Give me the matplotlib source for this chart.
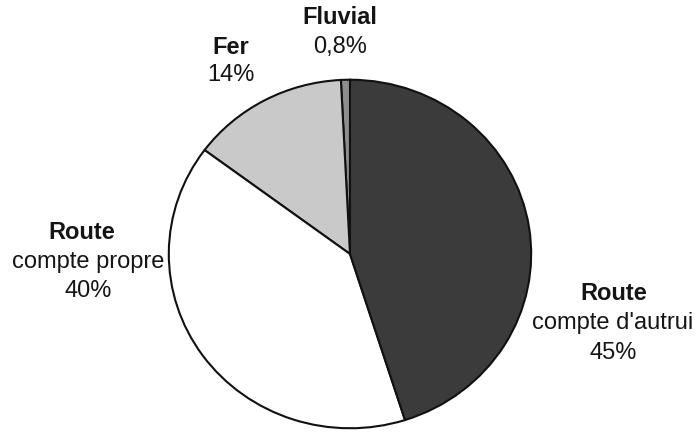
import matplotlib.pyplot as plt

plt.rcParams['font.family'] = ['Liberation Sans', 'DejaVu Sans']

# Répartition modale (%)
names = ['Fluvial', 'Fer', 'Route compte propre', "Route compte d'autrui"]
values = [0.8, 14, 40, 45]
colors = ['#8e8e8e', '#c9c9c9', '#ffffff', '#3b3b3b']

W, H = 699, 432
fig = plt.figure(figsize=(W / 100, H / 100), dpi=100)

# pie box in pixels (slightly wider than tall, as in the scan)
left, top, right, bottom = 167, 78, 533, 430
ax = fig.add_axes([left / W, 1 - bottom / H, (right - left) / W, (bottom - top) / H])
ax.pie(values, colors=colors, startangle=90, counterclock=True,
       wedgeprops=dict(edgecolor='#111111', linewidth=1.5))
ax.set_aspect('auto')
ax.set_xlim(-1.01, 1.01)
ax.set_ylim(-1.01, 1.01)
ax.axis('off')


def lab(x, y, s, bold=False):
    fig.text(x / W, 1 - y / H, s, ha='center', va='center', fontsize=17,
             fontweight='bold' if bold else 'normal', color='#151515')


lab(340, 18, 'Fluvial', True)
lab(340, 47, '0,8%')
lab(231, 47, 'Fer', True)
lab(231, 75, '14%')
lab(82, 232, 'Route', True)
lab(88, 262, 'compte propre')
lab(88, 291, '40%')
lab(614, 293, 'Route', True)
lab(613, 323, "compte d'autrui")
lab(613, 353, '45%')

fig.savefig('out.png', dpi=100)
